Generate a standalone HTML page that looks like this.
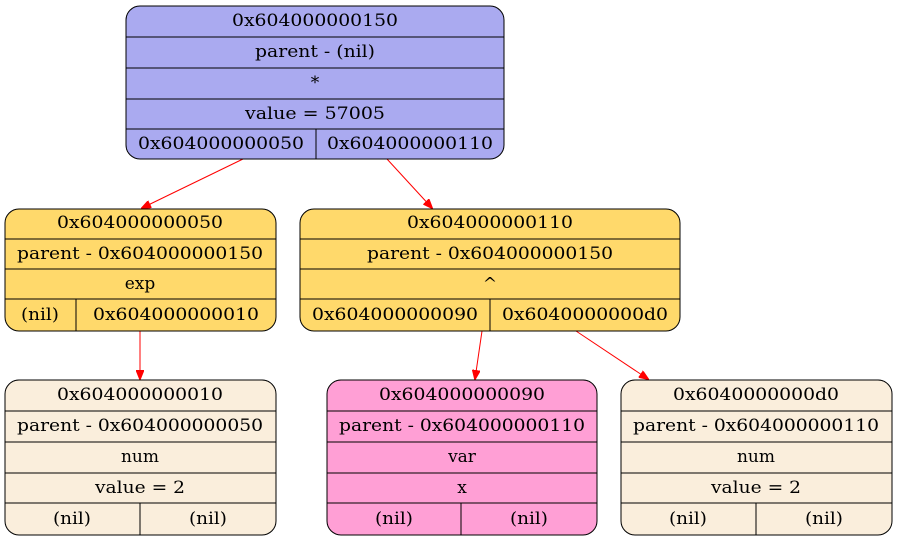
<!DOCTYPE html>
<html><head><style>html,body{margin:0;padding:0;background:#fff}</style></head>
<body>
<svg width="897" height="540" xmlns="http://www.w3.org/2000/svg" font-family="DejaVu Serif, serif" font-size="17">
<defs>
<marker id="a" markerWidth="10" markerHeight="8" refX="9" refY="4" orient="auto" markerUnits="userSpaceOnUse"><path d="M0,0 L10,4 L0,8 z" fill="red" stroke="red"/></marker>
</defs>
<g stroke="red" stroke-width="1" marker-end="url(#a)">
<line x1="243" y1="159" x2="142" y2="208"/>
<line x1="387" y1="159" x2="432" y2="208"/>
<line x1="140" y1="331" x2="140" y2="379"/>
<line x1="482" y1="331" x2="475" y2="379"/>
<line x1="576" y1="331" x2="648" y2="379"/>
</g>
<g stroke="#000" stroke-width="1">
<rect x="126" y="6" width="378" height="153" rx="14" fill="#aaaaf0"/>
<line x1="126" y1="37" x2="504" y2="37"/><line x1="126" y1="68" x2="504" y2="68"/><line x1="126" y1="99" x2="504" y2="99"/><line x1="126" y1="129" x2="504" y2="129"/><line x1="316" y1="129" x2="316" y2="159"/>
<rect x="5" y="209" width="271" height="122" rx="14" fill="#ffd96b"/>
<line x1="5" y1="239" x2="276" y2="239"/><line x1="5" y1="269" x2="276" y2="269"/><line x1="5" y1="299" x2="276" y2="299"/><line x1="76" y1="299" x2="76" y2="331"/>
<rect x="300" y="209" width="380" height="122" rx="14" fill="#ffd96b"/>
<line x1="300" y1="239" x2="680" y2="239"/><line x1="300" y1="269" x2="680" y2="269"/><line x1="300" y1="299" x2="680" y2="299"/><line x1="490" y1="299" x2="490" y2="331"/>
<rect x="5" y="380" width="271" height="155" rx="14" fill="#faeedc"/>
<line x1="5" y1="411" x2="276" y2="411"/><line x1="5" y1="442" x2="276" y2="442"/><line x1="5" y1="473" x2="276" y2="473"/><line x1="5" y1="503" x2="276" y2="503"/><line x1="140" y1="503" x2="140" y2="535"/>
<rect x="327" y="380" width="270" height="155" rx="14" fill="#ff9fd5"/>
<line x1="327" y1="411" x2="597" y2="411"/><line x1="327" y1="442" x2="597" y2="442"/><line x1="327" y1="473" x2="597" y2="473"/><line x1="327" y1="503" x2="597" y2="503"/><line x1="461" y1="503" x2="461" y2="535"/>
<rect x="621" y="380" width="271" height="155" rx="14" fill="#faeedc"/>
<line x1="621" y1="411" x2="892" y2="411"/><line x1="621" y1="442" x2="892" y2="442"/><line x1="621" y1="473" x2="892" y2="473"/><line x1="621" y1="503" x2="892" y2="503"/><line x1="756" y1="503" x2="756" y2="535"/>
</g>
<g text-anchor="middle" fill="#000">
<text x="315" y="26" textLength="166" lengthAdjust="spacingAndGlyphs">0x604000000150</text>
<text x="315" y="57" textLength="120" lengthAdjust="spacingAndGlyphs">parent - (nil)</text>
<text x="315" y="88">*</text>
<text x="315" y="119" textLength="140" lengthAdjust="spacingAndGlyphs">value = 57005</text>
<text x="221" y="149" textLength="166" lengthAdjust="spacingAndGlyphs">0x604000000050</text>
<text x="410" y="149" textLength="166" lengthAdjust="spacingAndGlyphs">0x604000000110</text>

<text x="140" y="228" textLength="166" lengthAdjust="spacingAndGlyphs">0x604000000050</text>
<text x="140" y="259" textLength="246" lengthAdjust="spacingAndGlyphs">parent - 0x604000000150</text>
<text x="140" y="289">exp</text>
<text x="40" y="320" textLength="38" lengthAdjust="spacingAndGlyphs">(nil)</text>
<text x="176" y="320" textLength="166" lengthAdjust="spacingAndGlyphs">0x604000000010</text>

<text x="490" y="228" textLength="166" lengthAdjust="spacingAndGlyphs">0x604000000110</text>
<text x="490" y="259" textLength="246" lengthAdjust="spacingAndGlyphs">parent - 0x604000000150</text>
<text x="490" y="289">^</text>
<text x="395" y="320" textLength="166" lengthAdjust="spacingAndGlyphs">0x604000000090</text>
<text x="585" y="320" textLength="166" lengthAdjust="spacingAndGlyphs">0x6040000000d0</text>

<text x="140" y="400" textLength="166" lengthAdjust="spacingAndGlyphs">0x604000000010</text>
<text x="140" y="431" textLength="246" lengthAdjust="spacingAndGlyphs">parent - 0x604000000050</text>
<text x="140" y="462">num</text>
<text x="140" y="493" textLength="90" lengthAdjust="spacingAndGlyphs">value = 2</text>
<text x="72" y="524" textLength="38" lengthAdjust="spacingAndGlyphs">(nil)</text>
<text x="208" y="524" textLength="38" lengthAdjust="spacingAndGlyphs">(nil)</text>

<text x="462" y="400" textLength="166" lengthAdjust="spacingAndGlyphs">0x604000000090</text>
<text x="462" y="431" textLength="246" lengthAdjust="spacingAndGlyphs">parent - 0x604000000110</text>
<text x="462" y="462">var</text>
<text x="462" y="493">x</text>
<text x="394" y="524" textLength="38" lengthAdjust="spacingAndGlyphs">(nil)</text>
<text x="529" y="524" textLength="38" lengthAdjust="spacingAndGlyphs">(nil)</text>

<text x="756" y="400" textLength="166" lengthAdjust="spacingAndGlyphs">0x6040000000d0</text>
<text x="756" y="431" textLength="246" lengthAdjust="spacingAndGlyphs">parent - 0x604000000110</text>
<text x="756" y="462">num</text>
<text x="756" y="493" textLength="90" lengthAdjust="spacingAndGlyphs">value = 2</text>
<text x="688" y="524" textLength="38" lengthAdjust="spacingAndGlyphs">(nil)</text>
<text x="824" y="524" textLength="38" lengthAdjust="spacingAndGlyphs">(nil)</text>
</g>
</svg>
</body></html>
